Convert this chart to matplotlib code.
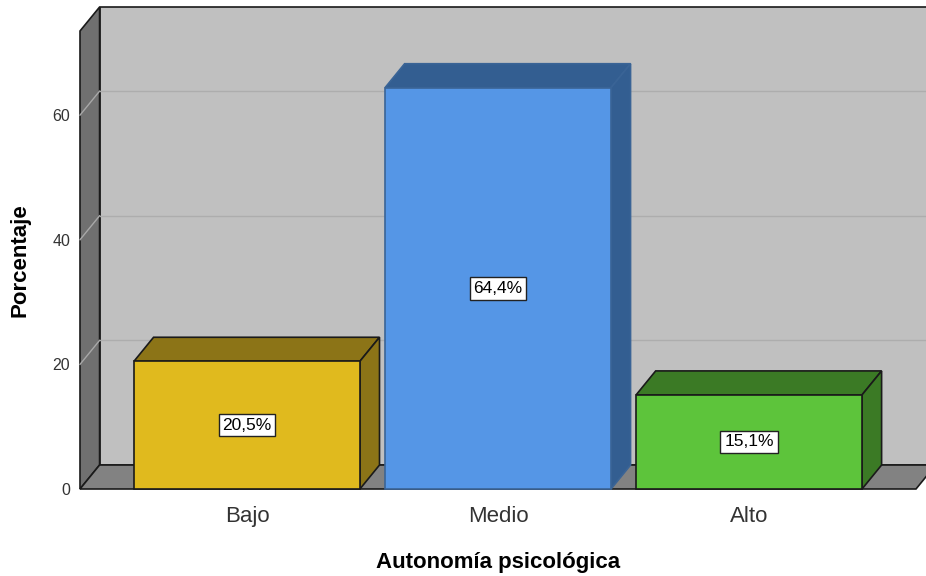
import matplotlib.pyplot as plt
from matplotlib.patches import Polygon

categories = ['Bajo', 'Medio', 'Alto']
percentages = [20.5, 64.4, 15.1]
value_labels = ['20,5%', '64,4%', '15,1%']
yticks = [0, 20, 40, 60]

front_colors = ['#E0BA1E', '#5596E6', '#5DC43B']
dark_colors = ['#8C7417', '#335E91', '#3B7A25']
edge_colors = ['#1a1a1a', '#3a6496', '#1a1a1a']

plt.rcParams['font.family'] = ['Liberation Sans', 'DejaVu Sans']

fig = plt.figure(figsize=(9.26, 5.76), dpi=100)
ax = fig.add_axes([80 / 926, 87 / 576, 836 / 926, 458 / 576])

x0, x1 = -0.665, 2.665
ymax = 73.5
dx, dy = 0.078, 3.85
width = 0.9

ax.set_xlim(x0, x1)
ax.set_ylim(0, ymax)


def poly(points, face, edge='#1a1a1a', lw=1.0, z=1):
    p = Polygon(points, closed=True, facecolor=face, edgecolor=edge,
                linewidth=lw, clip_on=False, zorder=z)
    ax.add_patch(p)


# walls and floor
poly([(x0 + dx, dy), (x1 + dx + 0.2, dy), (x1 + dx + 0.2, ymax + dy),
      (x0 + dx, ymax + dy)], '#C0C0C0', lw=1.2, z=1)
poly([(x0, 0), (x0, ymax), (x0 + dx, ymax + dy), (x0 + dx, dy)],
     '#707070', lw=1.2, z=2)

# grid lines
for v in yticks[1:]:
    ax.plot([x0 + dx, x1 + dx + 0.2], [v + dy, v + dy], color='#adadad',
            lw=1.0, clip_on=False, zorder=3)
    ax.plot([x0, x0 + dx], [v, v + dy], color='#a8a8a8', lw=1.0,
            clip_on=False, zorder=3)

poly([(x0, 0), (x1, 0), (x1 + dx, dy), (x0 + dx, dy)], '#828282',
     lw=1.2, z=4)

# bars
for i, v in enumerate(percentages):
    l, r = i - width / 2, i + width / 2
    ec = edge_colors[i]
    poly([(l, v), (r, v), (r + dx, v + dy), (l + dx, v + dy)],
         dark_colors[i], edge=ec, lw=1.2, z=5)
    poly([(r, 0), (r, v), (r + dx, v + dy), (r + dx, dy)],
         dark_colors[i], edge=ec, lw=1.2, z=5)
    poly([(l, 0), (r, 0), (r, v), (l, v)], front_colors[i],
         edge=ec, lw=1.2, z=6)
    ax.text(i, v / 2, value_labels[i], ha='center', va='center',
            fontsize=12.5, zorder=7,
            bbox=dict(boxstyle='square,pad=0.22', facecolor='white',
                      edgecolor='#222222', linewidth=1.0))

for s in ax.spines.values():
    s.set_visible(False)

ax.set_xticks(range(len(categories)))
ax.set_xticklabels(categories, fontsize=16, color='#333333')
ax.set_yticks(yticks)
ax.set_yticklabels([str(t) for t in yticks], fontsize=11.5, color='#333333')
ax.tick_params(axis='x', length=0, pad=12)
ax.tick_params(axis='y', length=0, pad=7)
ax.set_xlabel('Autonomía psicológica', fontsize=16, fontweight='bold',
              labelpad=18)
ax.set_ylabel('Porcentaje', fontsize=16, fontweight='bold', labelpad=16)

fig.savefig('out.png', dpi=100)
